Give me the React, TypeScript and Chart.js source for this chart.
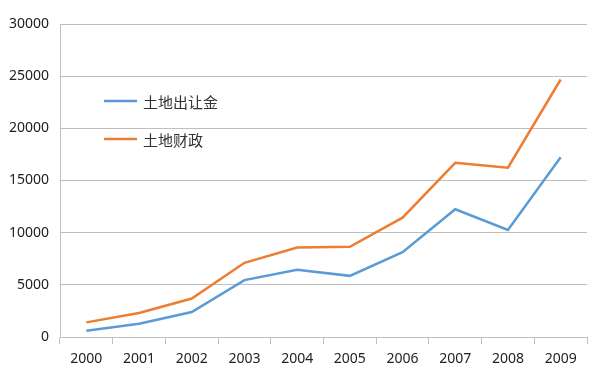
import React, { useEffect, useRef } from "react";
import { Chart, registerables } from "chart.js";

Chart.register(...registerables);

const years = ["2000", "2001", "2002", "2003", "2004", "2005", "2006", "2007", "2008", "2009"];
const landTransferFees = [600, 1270, 2390, 5450, 6440, 5860, 8130, 12240, 10260, 17220];
const landFinance = [1400, 2300, 3690, 7110, 8570, 8640, 11440, 16700, 16230, 24680];
const seriesNames = ["土地出让金", "土地财政"];
const seriesColors = ["#5B9BD5", "#ED7D31"];

const legendPlugin = {
  id: "insideLegend",
  afterDraw(chart: any) {
    const ctx = chart.ctx;
    const area = chart.chartArea;
    const x0 = area.left + 44;
    const ys = [area.top + 77, area.top + 115];
    ctx.save();
    chart.data.datasets.forEach((ds: any, i: number) => {
      const y = ys[i];
      ctx.strokeStyle = ds.borderColor;
      ctx.lineWidth = 2.5;
      ctx.beginPath();
      ctx.moveTo(x0, y);
      ctx.lineTo(x0 + 33, y);
      ctx.stroke();
      ctx.fillStyle = "#333333";
      ctx.font = "15px 'Noto Sans CJK SC', sans-serif";
      ctx.textBaseline = "middle";
      ctx.textAlign = "left";
      ctx.fillText(ds.label, x0 + 39, y + 1);
    });
    ctx.restore();
  },
};

export default function App() {
  const canvasRef = useRef<HTMLCanvasElement | null>(null);
  useEffect(() => {
    if (!canvasRef.current) return;
    const chart = new Chart(canvasRef.current, {
      type: "line",
      data: {
        labels: years,
        datasets: [
          {
            label: seriesNames[0],
            data: landTransferFees,
            borderColor: seriesColors[0],
            backgroundColor: seriesColors[0],
            borderWidth: 2.5,
            pointRadius: 0,
            tension: 0,
          },
          {
            label: seriesNames[1],
            data: landFinance,
            borderColor: seriesColors[1],
            backgroundColor: seriesColors[1],
            borderWidth: 2.5,
            pointRadius: 0,
            tension: 0,
          },
        ],
      },
      options: {
        animation: false,
        responsive: false,
        maintainAspectRatio: false,
        layout: { padding: { top: 24, right: 13, left: 0, bottom: 0 } },
        plugins: { legend: { display: false }, tooltip: { enabled: false } },
        scales: {
          x: {
            offset: true,
            grid: {
              offset: true,
              drawOnChartArea: false,
              drawTicks: true,
              tickLength: 7,
              color: "#bfbfbf",
            },
            border: { color: "#bfbfbf", width: 1 },
            ticks: {
              color: "#222222",
              padding: 7,
              font: { family: "'Noto Sans', sans-serif", size: 14 },
              maxRotation: 0,
            },
            afterFit: (s: any) => {
              s.height = 38;
            },
          },
          y: {
            min: 0,
            max: 30000,
            ticks: {
              stepSize: 5000,
              color: "#222222",
              padding: 11,
              font: { family: "'Noto Sans', sans-serif", size: 14 },
              callback: (v: any) => String(v),
            },
            grid: { drawTicks: false, color: "#bfbfbf" },
            border: { color: "#bfbfbf", width: 1 },
            afterFit: (s: any) => {
              s.width = 60;
            },
          },
        },
      },
      plugins: [legendPlugin],
    });
    return () => chart.destroy();
  }, []);
  return (
    <div style={{ position: "fixed", left: 0, top: 0, width: 600, height: 375, background: "#fff" }}>
      <canvas ref={canvasRef} width={600} height={375} style={{ width: 600, height: 375 }} />
    </div>
  );
}
